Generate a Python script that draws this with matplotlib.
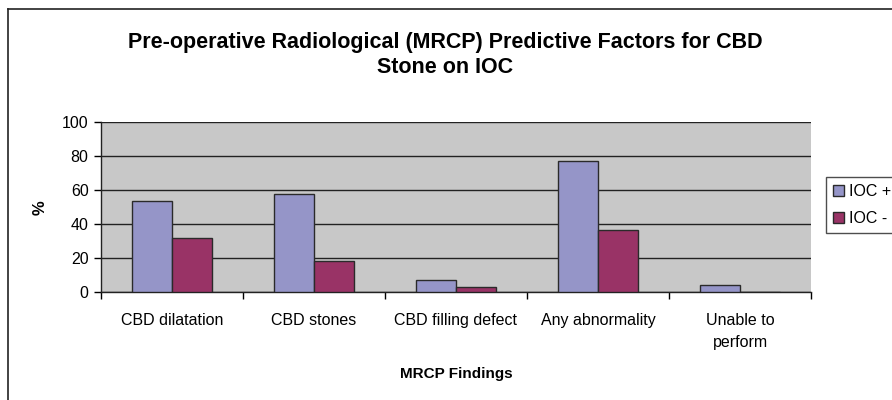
import matplotlib
matplotlib.use("Agg")
import matplotlib.pyplot as plt
import numpy as np
from matplotlib.lines import Line2D

plt.rcParams['font.family'] = ['Liberation Sans', 'DejaVu Sans']

categories = ["CBD dilatation", "CBD stones", "CBD filling defect", "Any abnormality", "Unable to\nperform"]
series_names = ["IOC +", "IOC -"]
ioc_pos = [53.5, 57.5, 7.1, 77.0, 4.3]
ioc_neg = [31.6, 18.4, 3.1, 36.5, 0.0]
yticks = [0, 20, 40, 60, 80, 100]

W, H = 892, 400
fig = plt.figure(figsize=(W / 100, H / 100), dpi=100)
ax = fig.add_axes([101 / W, 1 - 292 / H, (811 - 101) / W, (292 - 122.3) / H])
ax.set_facecolor("#C8C8C8")

x = np.arange(len(categories))
bw = 0.285
ax.bar(x - bw / 2, ioc_pos, bw, color="#9595C8", edgecolor="#2a2a2a", linewidth=1.0, label=series_names[0], zorder=3)
ax.bar(x + bw / 2, ioc_neg, bw, color="#993366", edgecolor="#2a2a2a", linewidth=1.0, label=series_names[1], zorder=3)

ax.set_xlim(-0.5, len(categories) - 0.5)
ax.set_ylim(0, 100)
ax.set_yticks(yticks)
ax.set_yticklabels([str(v) for v in yticks], fontsize=11.5)
ax.yaxis.grid(True, color="#222222", linewidth=1.0, zorder=1)
ax.set_axisbelow(True)

ax.set_xticks(np.arange(-0.5, len(categories), 1.0))
ax.set_xticklabels([])
ax.set_xticks(x, minor=True)
ax.set_xticklabels(categories, minor=True, fontsize=11.5, linespacing=1.6)
ax.tick_params(axis='x', which='minor', length=0, pad=15)
ax.tick_params(axis='x', which='major', length=5, direction='out', width=1)
ax.tick_params(axis='y', length=5, direction='out', width=1, pad=4)

for s in ['top', 'right']:
    ax.spines[s].set_visible(False)
for s in ['left', 'bottom']:
    ax.spines[s].set_color("#222222")
    ax.spines[s].set_linewidth(1.0)

ax.set_xlabel("MRCP Findings", fontsize=11, fontweight='bold', labelpad=12)
ax.set_ylabel("%", fontsize=12, fontweight='bold', labelpad=10)

fig.text(445 / W, 1 - 55 / H, "Pre-operative Radiological (MRCP) Predictive Factors for CBD\nStone on IOC",
         ha='center', va='center', fontsize=15.5, fontweight='bold', linespacing=1.25)

leg = ax.legend(loc='upper left', bbox_to_anchor=(826 / W, 1 - 176.7 / H), bbox_transform=fig.transFigure,
                fontsize=11.5, frameon=True, fancybox=False, edgecolor="#222222",
                handlelength=0.7, handleheight=0.7, handletextpad=0.3, borderpad=0.45, labelspacing=0.75,
                borderaxespad=0)
leg.get_frame().set_linewidth(1.0)

# outer chart border
fig.add_artist(Line2D([8 / W, 8 / W], [0, 1 - 9 / H], transform=fig.transFigure, color="#222222", linewidth=1.2))
fig.add_artist(Line2D([8 / W, 1], [1 - 9 / H, 1 - 9 / H], transform=fig.transFigure, color="#222222", linewidth=1.2))

fig.savefig("out.png", dpi=100)
